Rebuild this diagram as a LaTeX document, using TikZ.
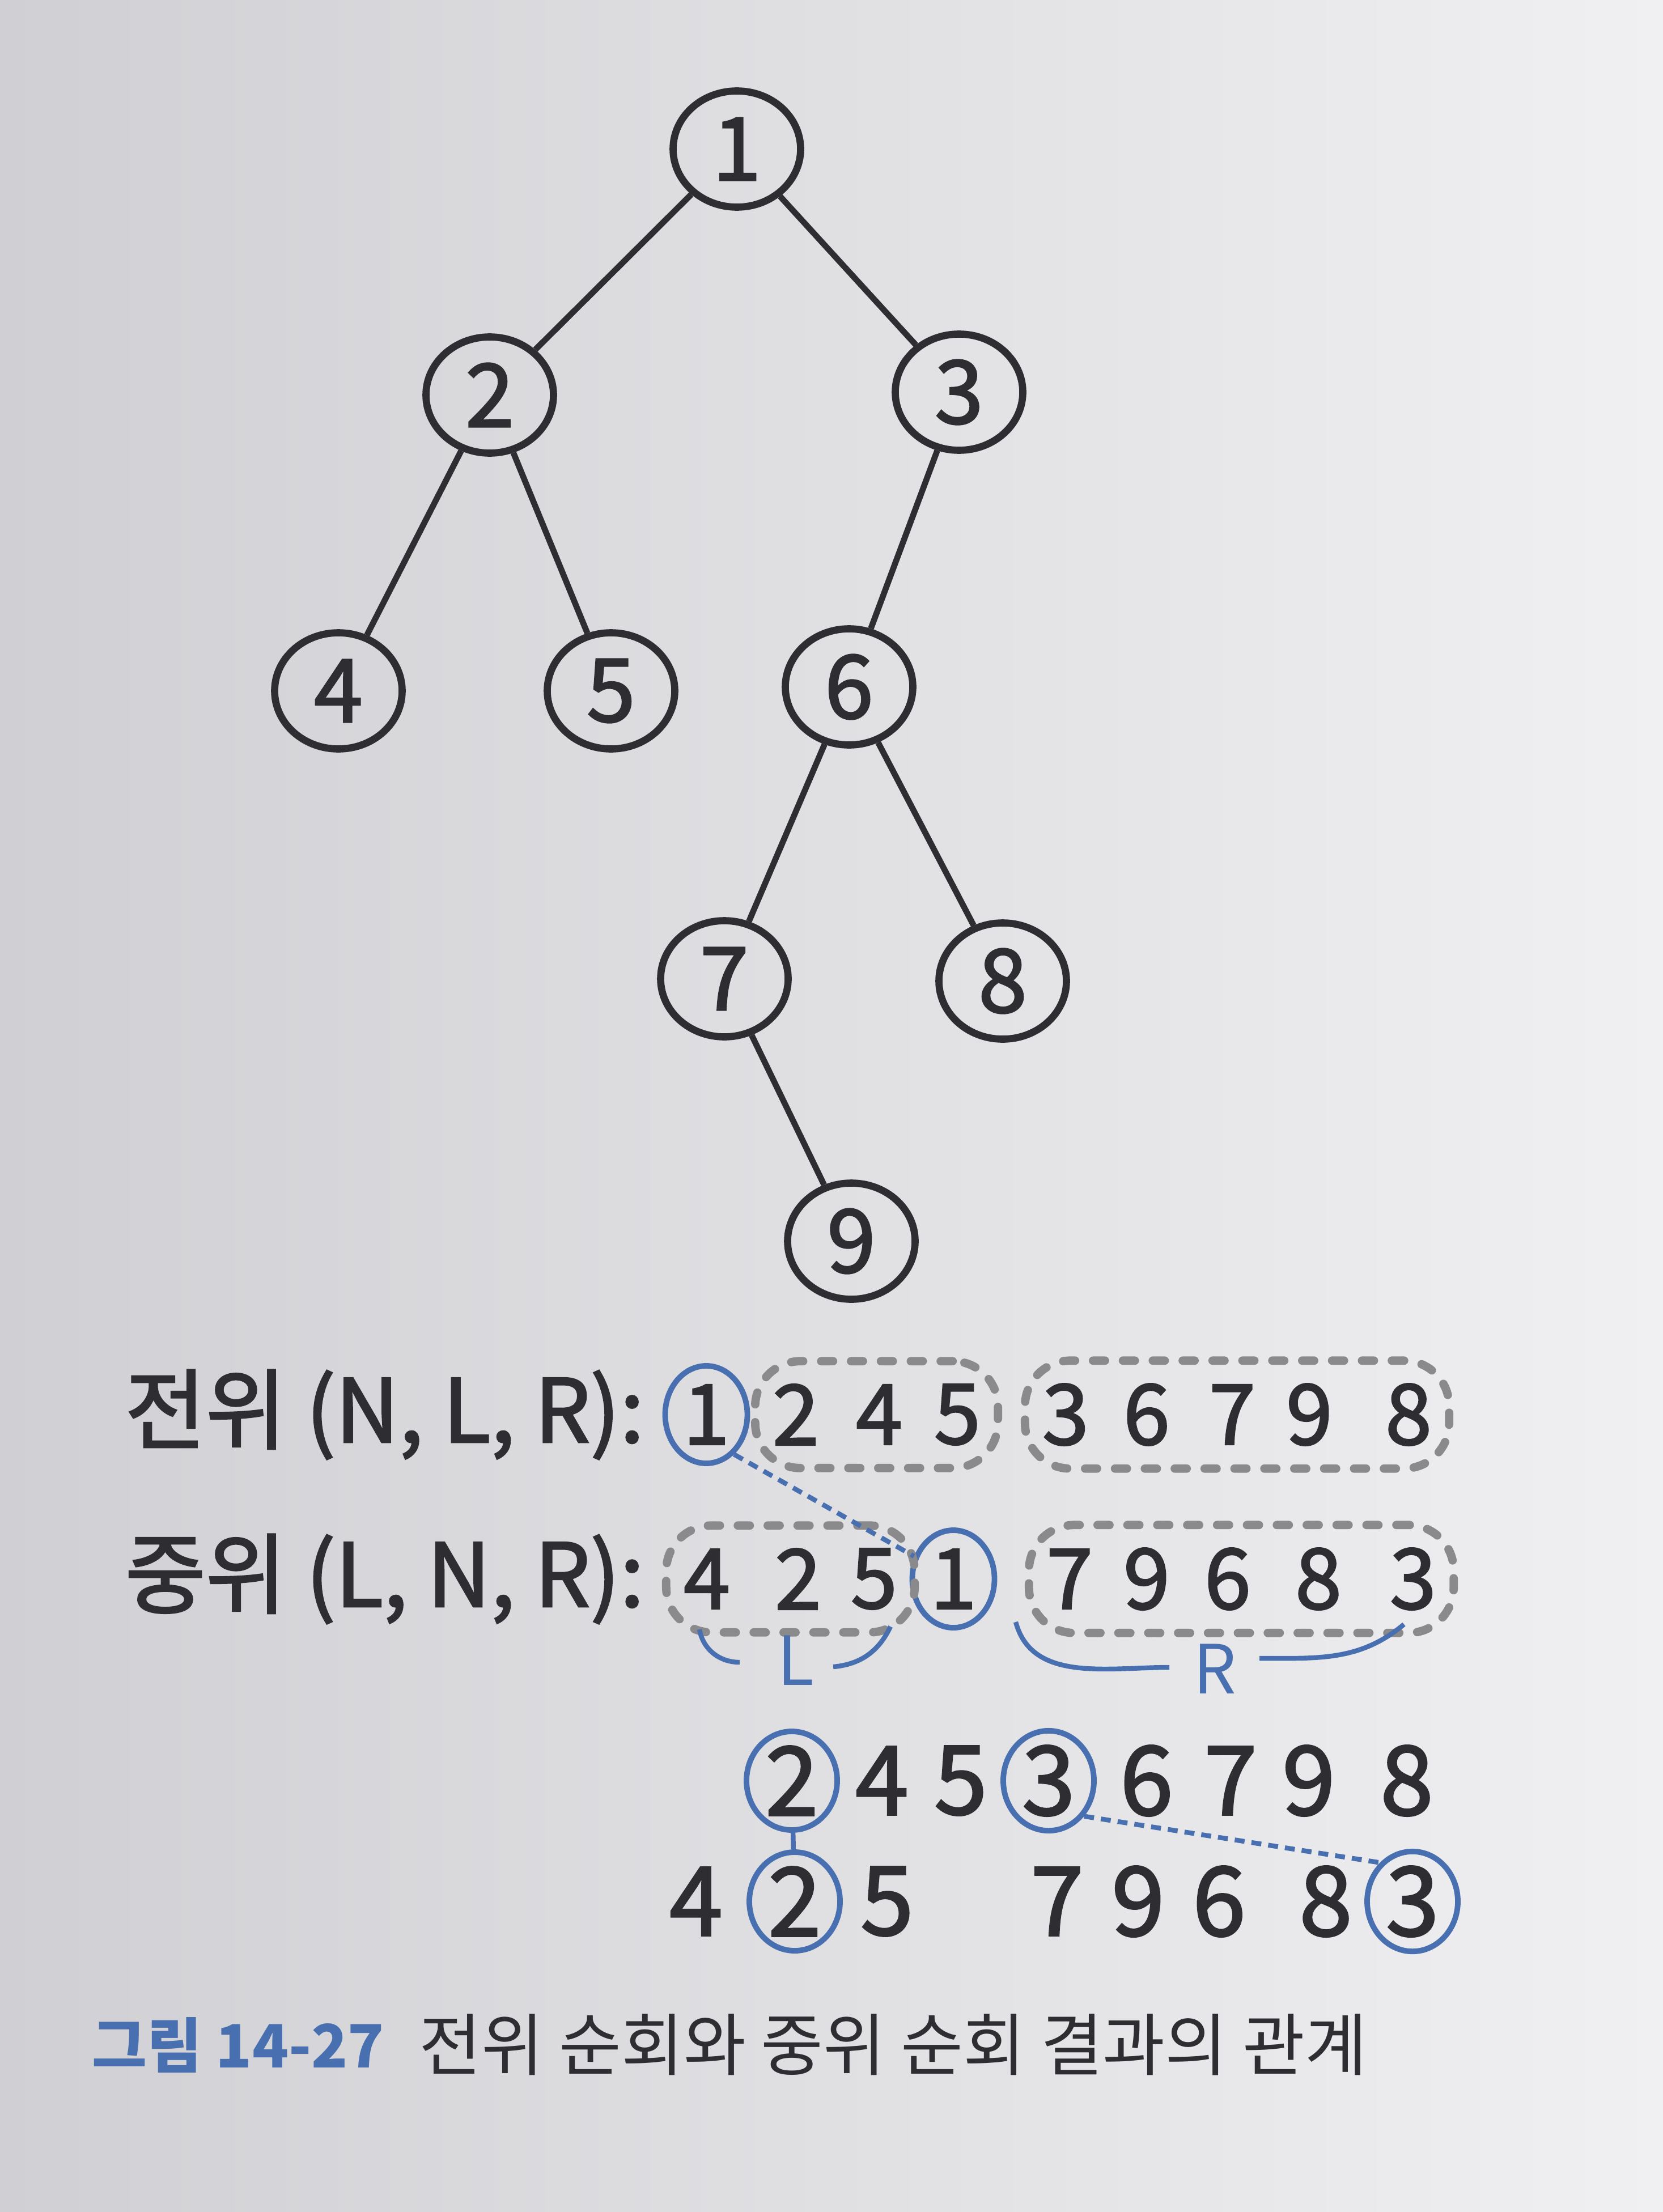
\documentclass[tikz,border=0pt]{standalone}
\usepackage{fontspec}
\setmainfont{Noto Sans CJK KR}
\newfontfamily\inkfont[FakeBold=2]{Noto Sans CJK KR}
\usepackage{xcolor}
\usepackage{tikz}
\usetikzlibrary{shapes.geometric,fit,positioning}
\definecolor{ink}{RGB}{45,45,50}
\definecolor{pen}{RGB}{72,112,176}
\definecolor{dotgray}{RGB}{138,138,140}
\definecolor{pageL}{RGB}{208,208,212}
\definecolor{pageR}{RGB}{240,240,242}

\begin{document}
\begin{tikzpicture}[
	tnode/.style={ellipse, draw=ink, line width=3.6pt, minimum width=2.25cm, minimum height=2.05cm, inner sep=0pt, text=ink, font=\fontsize{44}{50}\inkfont},
	tline/.style={draw=ink, line width=3pt},
	num/.style={inner sep=0pt, text=ink, font=\fontsize{42}{48}\inkfont},
	bignum/.style={inner sep=0pt, text=ink, font=\fontsize{48}{54}\inkfont},
	ring/.style={ellipse, draw=pen, line width=2.8pt, minimum width=1.45cm, minimum height=1.72cm, inner sep=0pt},
	bigring/.style={ring, minimum width=1.6cm, minimum height=1.74cm},
	grp/.style={draw=dotgray, line width=4.2pt, line cap=round, dash pattern=on 6pt off 9pt, rounded corners=0.8cm, inner xsep=0.3cm, inner ysep=0.4cm},
	link/.style={draw=pen, line width=2.4pt},
	dlink/.style={link, dash pattern=on 5pt off 3.5pt},
	rowtag/.style={anchor=west, inner sep=0pt, text=ink, font=\fontsize{44}{50}\inkfont},
	side/.style={inner sep=0pt, text=pen, font=\fontsize{34}{40}\selectfont}
]
\shade[left color=pageL, right color=pageR] (0,0) rectangle (29.34,-39.03);
\useasboundingbox (0,0) rectangle (29.34,-39.03);

% tree
\node[tnode] (n1) at (13.00,-2.63) {1};
\node[tnode] (n2) at (8.64,-6.97) {2};
\node[tnode] (n3) at (16.92,-6.92) {3};
\node[tnode] (n4) at (5.97,-12.19) {4};
\node[tnode] (n5) at (10.78,-12.19) {5};
\node[tnode] (n6) at (14.98,-12.12) {6};
\node[tnode] (n7) at (12.78,-17.27) {7};
\node[tnode] (n8) at (17.69,-17.31) {8};
\node[tnode] (n9) at (15.02,-21.90) {9};
\draw[tline] (n1) -- (n2);
\draw[tline] (n1) -- (n3);
\draw[tline] (n2) -- (n4);
\draw[tline] (n2) -- (n5);
\draw[tline] (n3) -- (n6);
\draw[tline] (n6) -- (n7);
\draw[tline] (n6) -- (n8);
\draw[tline] (n7) -- (n9);

% preorder / inorder
\node[rowtag] (pretag) at (2.2,-24.96) {전위 (N, L, R):};
\node[num, ring] (pre0) at (12.46,-24.96) {1};
\foreach \dig/\x [count=\i] in {2/14.04,4/15.51,5/16.89,3/18.80,6/20.23,7/21.74,9/23.10,8/24.85}
	\node[num] (pre\i) at (\x,-24.96) {\dig};
\node[grp, fit=(pre1)(pre3)] (preL) {};
\node[grp, fit=(pre4)(pre8)] (preR) {};

\node[rowtag] (intag) at (2.2,-27.86) {중위 (L, N, R):};
\foreach \dig/\x [count=\i] in {4/12.47,2/14.08,5/15.42}
	\node[num] (inl\i) at (\x,-27.86) {\dig};
\node[num, ring] (in0) at (16.82,-27.86) {1};
\foreach \dig/\x [count=\i] in {7/18.87,9/20.23,6/21.66,8/23.26,3/24.93}
	\node[num] (inr\i) at (\x,-27.86) {\dig};
\node[grp, fit=(inl1)(inl3)] (inL) {};
\node[grp, fit=(inr1)(inr5)] (inR) {};
\draw[dlink] (pre0.-55) -- (in0.150);

\node[side] (Ltag) at (14.04,-29.30) {L};
\node[side] (Rtag) at (21.43,-29.45) {R};
\draw[link] (12.34,-28.75) to[out=-80,in=180] (13.05,-29.33);
\draw[link] (14.70,-29.41) to[out=5,in=-115] (15.71,-28.70);
\draw[link] (17.92,-28.62) to[out=-75,in=180] (20.63,-29.42);
\draw[link] (22.22,-29.26) to[out=0,in=-140] (24.77,-28.66);

% split again
\node[bignum, bigring] (sp0) at (13.97,-31.42) {2};
\foreach \dig/\x [count=\i] in {4/15.56,5/16.95}
	\node[bignum] (spl\i) at (\x,-31.42) {\dig};
\node[bignum, bigring] (sq0) at (18.50,-31.42) {3};
\foreach \dig/\x [count=\i] in {6/20.23,7/21.71,9/23.09,8/24.82}
	\node[bignum] (sqr\i) at (\x,-31.42) {\dig};

\node[bignum] (si1) at (12.28,-33.55) {4};
\node[bignum, bigring] (si0) at (14.02,-33.55) {2};
\node[bignum] (si2) at (15.65,-33.55) {5};
\foreach \dig/\x [count=\i] in {7/18.65,9/20.08,6/21.51,8/23.39}
	\node[bignum] (sj\i) at (\x,-33.55) {\dig};
\node[bignum, bigring] (sj0) at (24.92,-33.55) {3};
\draw[link] (sp0) -- (si0);
\draw[dlink] (sq0.-45) -- (sj0.130);

% caption
\node[anchor=west, inner sep=0pt, text=pen, font=\fontsize{30}{36}\selectfont\bfseries] (capnum) at (1.62,-36.08) {그림 14-27};
\node[right=0.6cm of capnum, inner sep=0pt, text=ink, font=\fontsize{34}{40}\selectfont] (captext) {전위 순회와 중위 순회 결과의 관계};
\end{tikzpicture}
\end{document}
